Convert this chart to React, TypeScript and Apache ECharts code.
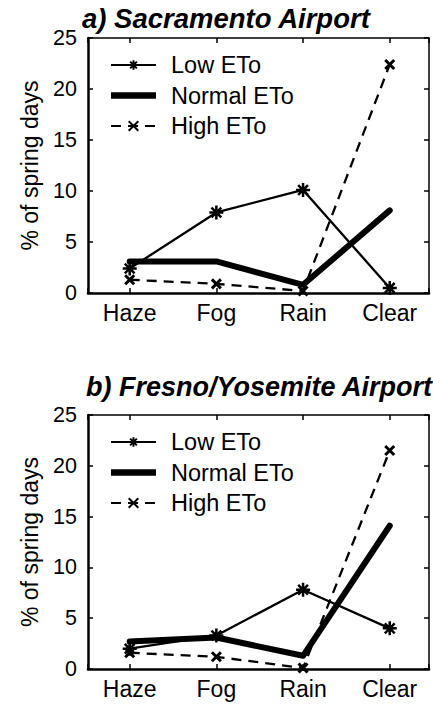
import React, { useEffect, useRef } from "react";
import * as echarts from "echarts";

const categories = ["Haze", "Fog", "Rain", "Clear"];
const seriesNames = ["Low ETo", "Normal ETo", "High ETo"];
const yTicks = [0, 5, 10, 15, 20, 25];
const titles = ["a) Sacramento Airport", "b) Fresno/Yosemite Airport"];

const lowA = [2.4, 7.9, 10.1, 0.5];
const normalA = [3.1, 3.1, 0.8, 8.1];
const highA = [1.3, 0.9, 0.2, 22.4];

const lowB = [2.0, 3.3, 7.8, 4.0];
const normalB = [2.7, 3.1, 1.3, 14.1];
const highB = [1.6, 1.2, 0.1, 21.5];

const FONT = "'Liberation Sans', Arial, sans-serif";
const ASTER = "path://M0,-10L0,10M-10,0L10,0M-7,-7L7,7M-7,7L7,-7";
const XMARK = "path://M-10,-10L10,10M-10,10L10,-10";
const THICK = "path://M0,0L45,0L45,6.5L0,6.5Z";

export default function App() {
  const ref = useRef<HTMLDivElement>(null);
  useEffect(() => {
    if (!ref.current) return;
    const chart = echarts.init(ref.current, undefined, { renderer: "svg" });
    const grids = [
      { left: 88, top: 38, width: 341, height: 255 },
      { left: 88, top: 415, width: 341, height: 254 },
    ];
    const xMin = -0.481;
    const xMax = 3.453;
    const xAxes: any[] = [];
    const yAxes: any[] = [];
    grids.forEach((_, g) => {
      xAxes.push({
        type: "value",
        gridIndex: g,
        min: xMin,
        max: xMax,
        minInterval: 1,
        maxInterval: 1,
        position: "bottom",
        axisLine: { show: true, onZero: false, lineStyle: { color: "#000", width: 2.5 } },
        axisTick: { show: true, inside: true, length: 5, lineStyle: { color: "#000", width: 1.5 } },
        splitLine: { show: false },
        axisLabel: {
          color: "#000",
          fontSize: 23,
          fontFamily: FONT,
          margin: 8,
          showMinLabel: true,
          showMaxLabel: true,
          formatter: (v: number) => {
            const r = Math.round(v);
            return Math.abs(v - r) < 1e-6 && r >= 0 && r < categories.length ? categories[r] : "";
          },
        },
      });
      xAxes.push({
        type: "value",
        gridIndex: g,
        min: xMin,
        max: xMax,
        minInterval: 1,
        maxInterval: 1,
        position: "top",
        axisLine: { show: true, onZero: false, lineStyle: { color: "#000", width: 1.5 } },
        axisTick: { show: true, inside: true, length: 5, lineStyle: { color: "#000", width: 1.5 } },
        splitLine: { show: false },
        axisLabel: { show: false },
      });
      yAxes.push({
        type: "value",
        gridIndex: g,
        min: yTicks[0],
        max: yTicks[yTicks.length - 1],
        interval: 5,
        position: "left",
        name: "% of spring days",
        nameLocation: "middle",
        nameGap: 47,
        nameTextStyle: { color: "#000", fontSize: 23, fontFamily: FONT },
        axisLine: { show: true, onZero: false, lineStyle: { color: "#000", width: 2.5 } },
        axisTick: { show: true, inside: true, length: 5, lineStyle: { color: "#000", width: 1.5 } },
        splitLine: { show: false },
        axisLabel: { color: "#000", fontSize: 21.5, fontFamily: FONT, margin: 11 },
      });
      yAxes.push({
        type: "value",
        gridIndex: g,
        min: yTicks[0],
        max: yTicks[yTicks.length - 1],
        interval: 5,
        position: "right",
        axisLine: { show: true, onZero: false, lineStyle: { color: "#000", width: 1.5 } },
        axisTick: { show: true, inside: true, length: 5, lineStyle: { color: "#000", width: 1.5 } },
        splitLine: { show: false },
        axisLabel: { show: false },
      });
    });

    const toPts = (arr: number[]) => arr.map((v, i) => [i, v]);
    const mk = (g: number, data: number[][]) => {
      const xi = g * 2;
      const yi = g * 2;
      return [
        {
          name: seriesNames[0],
          type: "line",
          xAxisIndex: xi,
          yAxisIndex: yi,
          data: toPts(data[0]),
          symbol: ASTER,
          symbolSize: 14,
          lineStyle: { color: "#000", width: 2.3 },
          itemStyle: { color: "#000", borderColor: "#000", borderWidth: 2.5 },
          z: 3,
        },
        {
          name: seriesNames[1],
          type: "line",
          xAxisIndex: xi,
          yAxisIndex: yi,
          data: toPts(data[1]),
          symbol: "none",
          lineStyle: { color: "#000", width: 6, cap: "round", join: "round" },
          itemStyle: { color: "#000" },
          z: 2,
        },
        {
          name: seriesNames[2],
          type: "line",
          xAxisIndex: xi,
          yAxisIndex: yi,
          data: toPts(data[2]),
          symbol: XMARK,
          symbolSize: 9,
          lineStyle: { color: "#000", width: 2.3, type: [10, 7] },
          itemStyle: { color: "#000", borderColor: "#000", borderWidth: 3, borderType: "solid" },
          z: 4,
        },
      ];
    };

    const legendBase = (top: number) => ({
      orient: "vertical",
      left: 110,
      top,
      padding: 0,
      itemWidth: 45,
      itemHeight: 12,
      itemGap: 6.5,
      selectedMode: false,
      data: [
        { name: seriesNames[0] },
        { name: seriesNames[1], icon: THICK },
        { name: seriesNames[2] },
      ],
      textStyle: {
        color: "#000",
        fontSize: 23.5,
        fontFamily: FONT,
        lineHeight: 23.5,
        padding: [0, 0, 0, 10],
      },
    });

    chart.setOption({
      animation: false,
      backgroundColor: "#fff",
      title: [
        {
          text: titles[0],
          left: 82,
          top: 5,
          padding: 0,
          textStyle: { color: "#000", fontSize: 27.5, fontWeight: "bold", fontStyle: "italic", fontFamily: FONT },
        },
        {
          text: titles[1],
          left: 86,
          top: 373,
          padding: 0,
          textStyle: { color: "#000", fontSize: 27, fontWeight: "bold", fontStyle: "italic", fontFamily: FONT },
        },
      ],
      legend: [legendBase(53), legendBase(430)],
      grid: grids,
      xAxis: xAxes,
      yAxis: yAxes,
      series: [...mk(0, [lowA, normalA, highA]), ...mk(1, [lowB, normalB, highB])],
    });
    return () => chart.dispose();
  }, []);
  return (
    <div
      ref={ref}
      style={{ position: "absolute", left: 0, top: 0, width: 433, height: 705, background: "#fff" }}
    />
  );
}
